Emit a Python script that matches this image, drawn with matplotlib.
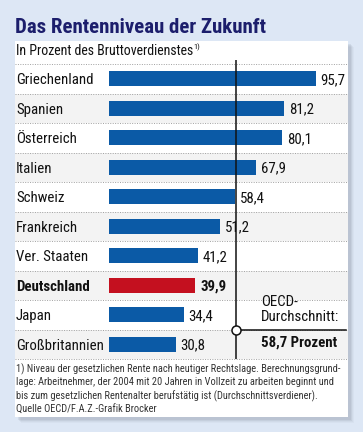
import matplotlib.pyplot as plt
import matplotlib.patches as mpatches
from matplotlib.transforms import blended_transform_factory

# ---- data ---------------------------------------------------------
COUNTRIES = ["Griechenland", "Spanien", "Österreich", "Italien", "Schweiz",
             "Frankreich", "Ver. Staaten", "Deutschland", "Japan",
             "Großbritannien"]
VALUES = [95.7, 81.2, 80.1, 67.9, 58.4, 51.2, 41.2, 39.9, 34.4, 30.8]
HIGHLIGHT = "Deutschland"
OECD_AVG = 58.7

TITLE = "Das Rentenniveau der Zukunft"
SUBTITLE = "In Prozent des Bruttoverdienstes"
FOOTNOTE = ("1) Niveau der gesetzlichen Rente nach heutiger Rechtslage. Berechnungsgrund-\n"
            "lage: Arbeitnehmer, der 2004 mit 20 Jahren in Vollzeit zu arbeiten beginnt und\n"
            "bis zum gesetzlichen Rentenalter berufstätig ist (Durchschnittsverdiener).")
SOURCE = "Quelle OECD/F.A.Z.-Grafik Brocker"

# ---- style --------------------------------------------------------
BG = "#dde7f5"
NAVY = "#1c1e6c"
BLUE = "#0b5aa6"
RED = "#c4101f"
ROW_ALT = "#f3f3f3"
plt.rcParams["font.family"] = ["Roboto Condensed", "DejaVu Sans"]

W, H = 363, 432
fig = plt.figure(figsize=(W / 100, H / 100), dpi=100, facecolor=BG)

# background axes in pixel coordinates (y downwards)
bg = fig.add_axes([0, 0, 1, 1])
bg.set_xlim(0, W)
bg.set_ylim(H, 0)
bg.axis("off")

PL, PR, PT, PB = 15, 348, 41, 417
# soft shadow
for i, a in enumerate([0.10, 0.08, 0.06, 0.04]):
    d = 1 + i
    bg.add_patch(mpatches.Rectangle((PL + 2 + d, PT + 2 + d), PR - PL, PB - PT,
                                    facecolor="#5a6070", alpha=a, lw=0, zorder=0))
bg.add_patch(mpatches.Rectangle((PL, PT), PR - PL, PB - PT, facecolor="white",
                                lw=0, zorder=1))

bg.text(PL, 33, TITLE, fontsize=15, fontweight="bold", color=NAVY,
        ha="left", va="baseline", zorder=5)
sub = bg.text(PL + 1, 55, SUBTITLE, fontsize=10, color="#111111",
              ha="left", va="baseline", zorder=5)
bg.annotate("1)", xy=(1, 1), xycoords=sub, xytext=(0, 0.5),
            textcoords="offset points", fontsize=6, va="top", ha="left",
            color="#111111", zorder=5)

# ---- chart axes ---------------------------------------------------
X0, X1 = 109.3, PR
Y0, Y1 = 64, 359
PX_PER_UNIT = 2.157
ax = fig.add_axes([X0 / W, 1 - Y1 / H, (X1 - X0) / W, (Y1 - Y0) / H])
ax.set_xlim(0, (X1 - X0) / PX_PER_UNIT)
n = len(COUNTRIES)
ax.set_ylim(n - 0.5, -0.5)
ax.axis("off")
ax.patch.set_alpha(0)
ax.set_zorder(3)

blend = blended_transform_factory(bg.transData, ax.transData)
for i in range(n):
    if i % 2 == 1:
        bg.add_patch(mpatches.Rectangle((PL, i - 0.5), PR - PL, 1,
                                        transform=blend, facecolor=ROW_ALT,
                                        lw=0, zorder=1.5))
for i in range(n + 1):
    bg.plot([PL, PR], [i - 0.5, i - 0.5], transform=blend, color="#a0a0a0",
            lw=0.7, ls=(0, (1, 1.5)), zorder=2)

colors = [RED if c == HIGHLIGHT else BLUE for c in COUNTRIES]
ax.barh(range(n), VALUES, height=0.52, color=colors, zorder=3)

for i, (c, v) in enumerate(zip(COUNTRIES, VALUES)):
    bold = "bold" if c == HIGHLIGHT else "normal"
    bg.text(16, i + 0.05, c, transform=blend, fontsize=10.7, fontweight=bold,
            ha="left", va="center", color="#111111", zorder=5)
    ax.text(v + 2.2, i + 0.05, f"{v:.1f}".replace(".", ","), fontsize=10.7,
            fontweight=bold, ha="left", va="center", color="#111111",
            zorder=5)

# OECD average marker
ax.plot([OECD_AVG, OECD_AVG], [-0.62, n - 0.5], color="#111111", lw=1.1,
        zorder=4, solid_capstyle="butt", clip_on=False)
ax.plot([OECD_AVG, ax.get_xlim()[1] - 1], [n - 1.5, n - 1.5], color="#111111",
        lw=1.1, zorder=4)
ax.plot([OECD_AVG], [n - 1.5], marker="o", ms=6.5, mfc="white",
        mec="#111111", mew=1.1, zorder=5, clip_on=False)
tx = OECD_AVG + 11.6
ax.text(tx, n - 2.42, "OECD-", fontsize=10.7, ha="left", va="center",
        color="#111111", zorder=5)
ax.text(tx, n - 1.92, "Durchschnitt:", fontsize=10.7, ha="left", va="center",
        color="#111111", zorder=5)
ax.text(tx, n - 1.05, f"{OECD_AVG:.1f}".replace(".", ",") + " Prozent",
        fontsize=10.7, fontweight="bold", ha="left", va="center",
        color="#111111", zorder=5)

# footnote and source
bg.text(PL + 1, 363, FOOTNOTE, fontsize=7.5, color="#333333", ha="left",
        va="top", linespacing=1.33, zorder=5)
bg.text(PL + 1, 405, SOURCE, fontsize=7.5, color="#333333", ha="left",
        va="top", zorder=5)

fig.savefig("out.png", dpi=100, facecolor=BG)
